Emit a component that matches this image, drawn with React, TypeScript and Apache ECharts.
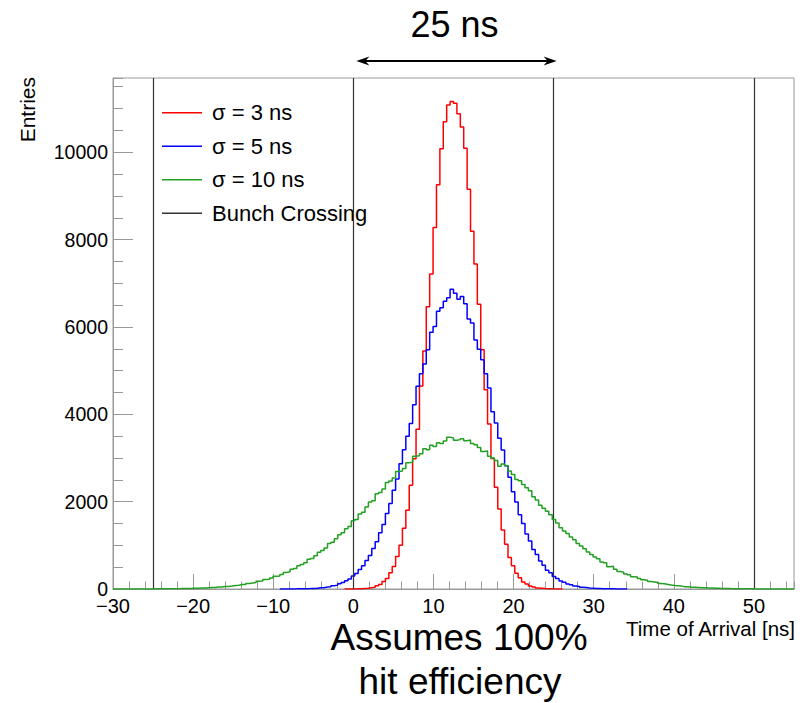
import React, { useEffect, useRef } from 'react';
import * as echarts from 'echarts';

// Histogram binning: 200 bins over [-30, 55] ns
const binStart = -30;
const binWidth = 0.425;
const xMin = -30;
const xMax = 55;
const yMax = 11700;

// sigma = 3 ns (first bin index 68)
const redStartBin = 68;
const redCounts = [
  0, 1, 2, 4, 5, 11, 16, 29, 41, 73,
  104, 172, 243, 371, 518, 742, 1003, 1389, 1802, 2374,
  2985, 3660, 4650, 5452, 6460, 7210, 8277, 9255, 10080, 10700,
  11080, 11160, 11120, 10880, 10580, 10090, 9150, 8190, 7440, 6520,
  5480, 4560, 3780, 2990, 2330, 1830, 1352, 1027, 722, 531,
  358, 256, 161, 112, 66, 47, 25, 18, 9, 7,
  3, 2, 1, 0,
];

// sigma = 5 ns (first bin index 49)
const blueStartBin = 49;
const blueCounts = [
  0,
  1, 1, 2, 3, 5, 4, 8, 9, 14, 17,
  26, 30, 44, 53, 74, 89, 121, 146, 191, 231,
  297, 356, 448, 531, 655, 769, 930, 1080, 1290, 1475,
  1730, 1955, 2260, 2520, 2870, 3190, 3500, 3790, 4220, 4640,
  4930, 5150, 5480, 5880, 6010, 6360, 6440, 6590, 6670, 6866,
  6774, 6637, 6696, 6529, 6180, 6090, 5700, 5490, 5250, 4930,
  4600, 4060, 3800, 3450, 3180, 2820, 2560, 2225, 1990, 1700,
  1500, 1262, 1100, 905, 790, 640, 545, 430, 370, 285,
  240, 182, 154, 113, 95, 68, 57, 40, 33, 22,
  19, 12, 11, 6, 5, 4, 3, 1, 2, 1,
  0,
];

// sigma = 10 ns (first bin index 0)
const greenStartBin = 0;
const greenCounts = [
  0, 0, 0, 0, 0, 1, 0, 1, 1, 1,
  2, 2, 3, 3, 4, 5, 5, 6, 8, 9,
  11, 12, 14, 18, 19, 22, 24, 30, 33, 36,
  45, 46, 57, 60, 68, 82, 86, 102, 105, 128,
  135, 150, 175, 185, 215, 225, 250, 290, 300, 330,
  380, 395, 450, 470, 530, 560, 600, 680, 700, 760,
  840, 880, 940, 1040, 1070, 1150, 1240, 1290, 1380, 1430,
  1560, 1590, 1720, 1760, 1880, 1990, 2020, 2180, 2210, 2290,
  2440, 2470, 2540, 2690, 2700, 2760, 2890, 2900, 3040, 3050,
  3095, 3210, 3190, 3290, 3260, 3350, 3330, 3390, 3475, 3460,
  3405, 3420, 3440, 3395, 3410, 3330, 3300, 3240, 3150, 3160,
  3040, 3000, 2940, 2810, 2860, 2830, 2700, 2620, 2510, 2480,
  2390, 2320, 2250, 2110, 2040, 1920, 1850, 1780, 1700, 1590,
  1510, 1400, 1330, 1270, 1190, 1130, 1040, 985, 920, 850,
  790, 735, 690, 620, 600, 510, 520, 455, 400, 385,
  345, 325, 280, 275, 240, 210, 200, 170, 160, 150,
  125, 118, 105, 90, 80, 74, 66, 54, 50, 42,
  40, 35, 28, 27, 22, 21, 16, 15, 14, 10,
  10, 7, 7, 6, 4, 5, 3, 3, 2, 2,
  1, 1, 1, 1, 0, 0, 0, 0, 0, 0,
];

const bunchCrossings = [-25, 0, 25, 50];
const seriesNames = ['σ = 3 ns', 'σ = 5 ns', 'σ = 10 ns', 'Bunch Crossing'];
const seriesColors = ['#ff0000', '#0000ff', '#22a022', '#333333'];
const xAxisTitle = 'Time of Arrival [ns]';
const yAxisTitle = 'Entries';
const spacingLabel = '25 ns';
const noteLines = ['Assumes 100%', 'hit efficiency'];

const FONT = '"Liberation Sans", Arial, Helvetica, sans-serif';
const AXIS_GRAY = '#999999';

function toSteps(start: number, counts: number[]): number[][] {
  const pts = counts.map((v, i) => [binStart + (start + i) * binWidth, v]);
  pts.push([binStart + (start + counts.length) * binWidth, 0]);
  return pts;
}

function fmtX(v: number): string {
  return v < 0 ? '\u2212' + Math.abs(v) : String(v);
}

function fmtY(v: number): string {
  return String(Math.round(v));
}

export default function App() {
  const ref = useRef<HTMLDivElement>(null);

  useEffect(() => {
    if (!ref.current) return;
    const chart = echarts.init(ref.current, null, { renderer: 'svg' });

    const histSeries = [
      { start: redStartBin, counts: redCounts },
      { start: blueStartBin, counts: blueCounts },
      { start: greenStartBin, counts: greenCounts },
    ].map((h, i) => ({
      name: seriesNames[i],
      type: 'line',
      xAxisIndex: 0,
      yAxisIndex: 0,
      step: 'end',
      data: toSteps(h.start, h.counts),
      showSymbol: false,
      symbol: 'none',
      color: seriesColors[i],
      lineStyle: { color: seriesColors[i], width: 1.5 },
      itemStyle: { color: seriesColors[i] },
      emphasis: { disabled: true },
      silent: true,
      z: 3 + i,
    }));

    const option: any = {
      animation: false,
      backgroundColor: '#ffffff',
      grid: {
        left: 113,
        right: 10,
        top: 78,
        bottom: 114,
        show: true,
        borderColor: AXIS_GRAY,
        borderWidth: 1,
        containLabel: false,
      },
      legend: {
        orient: 'vertical',
        left: 162,
        top: 101.7,
        padding: 0,
        itemGap: 11.5,
        itemWidth: 40,
        itemHeight: 1.5,
        icon: 'rect',
        data: seriesNames,
        selectedMode: false,
        textStyle: {
          fontSize: 22,
          fontFamily: FONT,
          color: '#000',
          lineHeight: 22,
          padding: [0, 0, 0, 5],
        },
      },
      xAxis: [
        {
          type: 'value',
          position: 'bottom',
          min: xMin,
          max: xMax,
          interval: 10,
          axisLine: { show: true, onZero: false, lineStyle: { color: AXIS_GRAY, width: 1 } },
          axisTick: { show: true, inside: true, length: 15, lineStyle: { color: AXIS_GRAY, width: 1 } },
          splitLine: { show: false },
          axisLabel: {
            show: true,
            margin: 10,
            fontSize: 20,
            lineHeight: 14,
            fontFamily: FONT,
            color: '#000',
            showMaxLabel: false,
            formatter: fmtX,
          },
        },
        {
          type: 'value',
          position: 'bottom',
          min: xMin,
          max: xMax,
          interval: 2,
          axisLine: { show: false, onZero: false },
          axisTick: { show: true, inside: true, length: 7.5, lineStyle: { color: AXIS_GRAY, width: 1 } },
          splitLine: { show: false },
          axisLabel: { show: false },
        },
      ],
      yAxis: [
        {
          type: 'value',
          position: 'left',
          min: 0,
          max: yMax,
          interval: 2000,
          axisLine: { show: true, onZero: false, lineStyle: { color: AXIS_GRAY, width: 1 } },
          axisTick: { show: true, inside: true, length: 20, lineStyle: { color: AXIS_GRAY, width: 1 } },
          splitLine: { show: false },
          axisLabel: {
            show: true,
            margin: 5,
            fontSize: 19.5,
            lineHeight: 14,
            fontFamily: FONT,
            color: '#000',
            showMaxLabel: false,
            formatter: fmtY,
          },
        },
        {
          type: 'value',
          position: 'left',
          min: 0,
          max: yMax,
          interval: 500,
          axisLine: { show: false, onZero: false },
          axisTick: { show: true, inside: true, length: 10, lineStyle: { color: AXIS_GRAY, width: 1 } },
          splitLine: { show: false },
          axisLabel: { show: false },
        },
      ],
      series: [
        ...histSeries,
        {
          name: seriesNames[3],
          type: 'line',
          xAxisIndex: 0,
          yAxisIndex: 0,
          data: [],
          color: seriesColors[3],
          lineStyle: { color: seriesColors[3], width: 1.2 },
          itemStyle: { color: seriesColors[3] },
          silent: true,
          markLine: {
            silent: true,
            symbol: ['none', 'none'],
            label: { show: false },
            lineStyle: { color: seriesColors[3], width: 1.2, type: 'solid' },
            emphasis: { disabled: true },
            data: bunchCrossings.map((x) => ({ xAxis: x })),
          },
          z: 2,
        },
      ],
    };

    chart.setOption(option);

    const px = (x: number) => chart.convertToPixel({ xAxisIndex: 0 }, x) as number;
    const a = px(bunchCrossings[1]) + 3;
    const b = px(bunchCrossings[2]) + 3;
    const ay = 61;
    const right = px(xMax);

    chart.setOption({
      graphic: [
        {
          type: 'line',
          shape: { x1: a + 8, y1: ay, x2: b - 8, y2: ay },
          style: { stroke: '#000', lineWidth: 2 },
        },
        {
          type: 'polygon',
          shape: { points: [[a, ay], [a + 13, ay - 4.5], [a + 9, ay], [a + 13, ay + 4.5]] },
          style: { fill: '#000' },
        },
        {
          type: 'polygon',
          shape: { points: [[b, ay], [b - 13, ay - 4.5], [b - 9, ay], [b - 13, ay + 4.5]] },
          style: { fill: '#000' },
        },
        {
          type: 'text',
          x: (a + b) / 2 - 2,
          y: 24,
          style: {
            text: spacingLabel,
            fontSize: 36,
            fontFamily: FONT,
            fill: '#000',
            align: 'center',
            verticalAlign: 'middle',
          },
        },
        {
          type: 'text',
          x: 459,
          y: 637,
          style: {
            text: noteLines[0],
            fontSize: 37,
            fontFamily: FONT,
            fill: '#000',
            align: 'center',
            verticalAlign: 'middle',
          },
        },
        {
          type: 'text',
          x: 460,
          y: 681,
          style: {
            text: noteLines[1],
            fontSize: 37,
            fontFamily: FONT,
            fill: '#000',
            align: 'center',
            verticalAlign: 'middle',
          },
        },
        {
          type: 'text',
          x: right + 1,
          y: 628,
          style: {
            text: xAxisTitle,
            fontSize: 20.5,
            fontFamily: FONT,
            fill: '#000',
            align: 'right',
            verticalAlign: 'middle',
          },
        },
        {
          type: 'text',
          x: 27,
          y: 77,
          rotation: Math.PI / 2,
          style: {
            text: yAxisTitle,
            fontSize: 21,
            fontFamily: FONT,
            fill: '#000',
            align: 'right',
            verticalAlign: 'middle',
          },
        },
      ],
    });

    return () => {
      chart.dispose();
    };
  }, []);

  return (
    <div
      ref={ref}
      style={{ position: 'absolute', left: 0, top: 0, width: 804, height: 703, background: '#fff' }}
    />
  );
}
